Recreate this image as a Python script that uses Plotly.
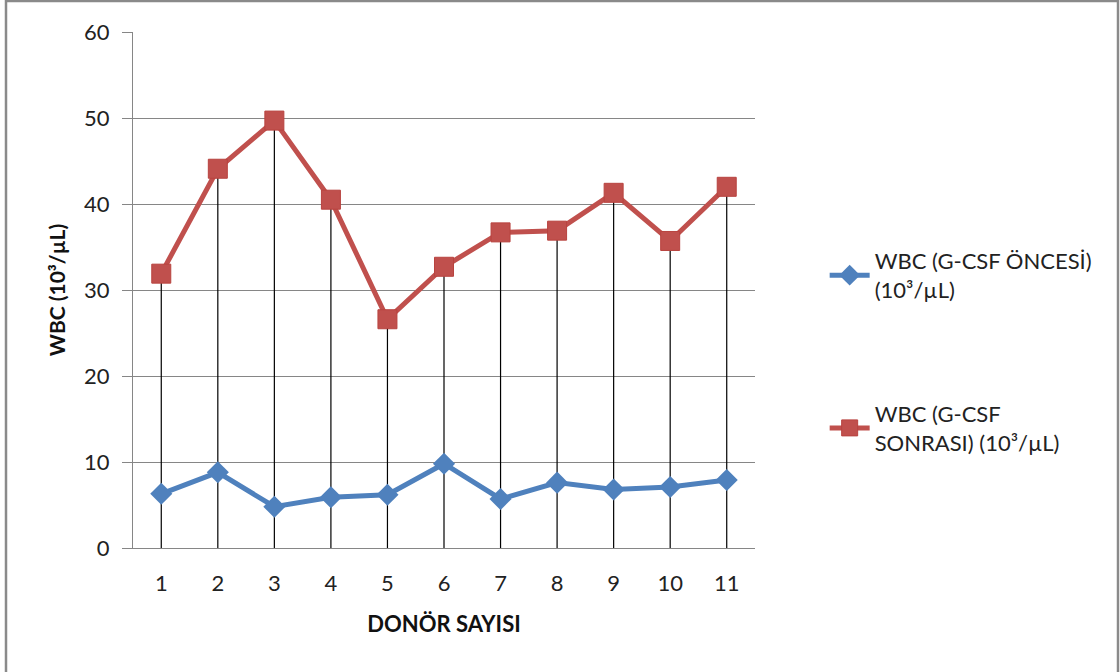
import plotly.graph_objects as go

# Donor numbers and WBC counts (10^3/µL) before and after G-CSF
donors = ["1", "2", "3", "4", "5", "6", "7", "8", "9", "10", "11"]
wbc_before = [6.3, 8.8, 4.8, 5.9, 6.2, 9.8, 5.7, 7.6, 6.8, 7.1, 7.9]
wbc_after = [31.9, 44.1, 49.7, 40.5, 26.6, 32.7, 36.7, 36.9, 41.3, 35.7, 42.0]

name_before = "WBC (G-CSF ÖNCESİ)<br>(10³/µL)"
name_after = "WBC (G-CSF<br>SONRASI) (10³/µL)"

BLUE = "#4F81BD"
RED = "#C0504D"
GRAY = "#868686"
FONT = "Lato, 'Open Sans', sans-serif"

fig = go.Figure()

# Drop lines from every "after" point down to the category axis
fig.add_trace(go.Scatter(
    x=donors, y=[0] * len(donors),
    mode="markers", marker=dict(size=0.1, opacity=0),
    error_y=dict(type="data", symmetric=False, array=wbc_after,
                 arrayminus=[0] * len(donors), color="black",
                 thickness=1.2, width=0),
    showlegend=False, hoverinfo="skip",
))

fig.add_trace(go.Scatter(
    x=donors, y=wbc_before, name=name_before, mode="lines+markers",
    line=dict(color=BLUE, width=5),
    marker=dict(symbol="diamond", size=17, color=BLUE),
    legend="legend",
))

fig.add_trace(go.Scatter(
    x=donors, y=wbc_after, name=name_after, mode="lines+markers",
    line=dict(color=RED, width=5),
    marker=dict(symbol="square", size=19, color=RED,
                line=dict(color="#B8433F", width=1)),
    legend="legend2",
))

legend_common = dict(
    font=dict(family=FONT, size=22, color="#222"),
    bgcolor="rgba(0,0,0,0)", xanchor="left", yanchor="middle",
    itemwidth=40,
)

fig.update_layout(
    width=1120, height=672,
    margin=dict(l=133, r=365, t=32, b=124),
    paper_bgcolor="white", plot_bgcolor="white",
    font=dict(family=FONT, color="#222"),
    legend=dict(x=1.112, y=0.528, **legend_common),
    legend2=dict(x=1.112, y=0.232, **legend_common),
    xaxis=dict(
        type="category", range=[-0.5, 10.5],
        showgrid=False, showline=True, linecolor=GRAY, linewidth=1,
        ticks="", ticklabelstandoff=16,
        tickfont=dict(family=FONT, size=22, color="#222"),
        title=dict(text="<b>DONÖR SAYISI</b>",
                   font=dict(family=FONT, size=22, color="#111"),
                   standoff=21),
        zeroline=False,
    ),
    yaxis=dict(
        range=[0, 60], dtick=10, tick0=0,
        showgrid=True, gridcolor=GRAY, gridwidth=1,
        showline=True, linecolor=GRAY, linewidth=1,
        ticks="outside", ticklen=10, tickcolor=GRAY,
        ticklabelstandoff=8,
        tickfont=dict(family=FONT, size=22, color="#222"),
        title=dict(text="<b>WBC (10³/µL)</b>",
                   font=dict(family=FONT, size=21, color="#111"),
                   standoff=12),
        zeroline=False,
    ),
    shapes=[dict(
        type="rect", xref="paper", yref="paper",
        x0=(6 - 133) / 622, x1=(1118 - 133) / 622,
        y0=(516 - 670.5) / 516, y1=(516 + 31) / 516,
        line=dict(color="#8A8A8A", width=2.5), layer="below",
    )],
)

fig.write_html("out.html")
